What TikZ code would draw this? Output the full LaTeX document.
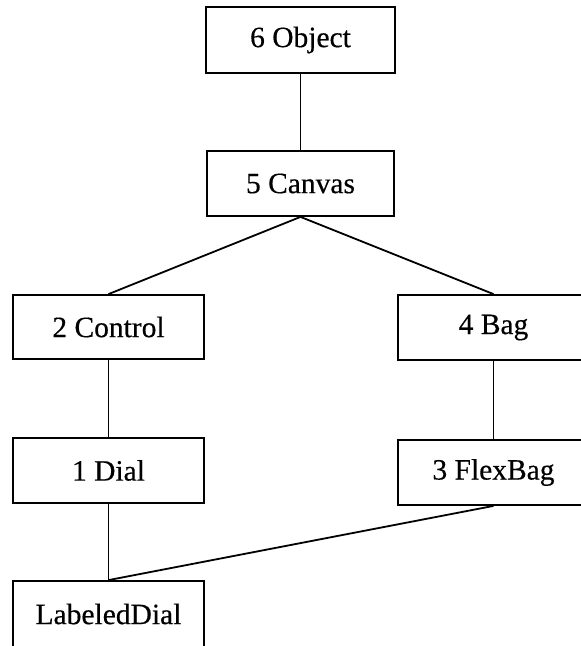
\documentclass[tikz,border=0pt]{standalone}
\usepackage{fontspec}
\setmainfont{Liberation Serif}
\newfontfamily\inkfont[FakeBold=0.4]{Liberation Serif}
\begin{document}
\begin{tikzpicture}[x=1pt,y=-1pt,
  cls/.style={draw=black, line width=1.8pt, fill=white, inner sep=0pt,
    minimum width=191pt, minimum height=65pt, font=\inkfont\fontsize{29.5}{32}\selectfont},
  link/.style={draw=black, line width=1.8pt}]
\useasboundingbox (0,0) rectangle (581,646);
\clip (0,0) rectangle (581,646);
\node[cls, minimum width=189pt, minimum height=66pt] (obj) at (300.5,40) {6 Object};
\node[cls, minimum width=187pt] (canvas) at (300.5,183.5) {5 Canvas};
\node[cls, minimum height=64pt] (control) at (108.5,327) {2 Control};
\node[cls] (bag) at (493.5,327.5) {4 Bag};
\node[cls] (dial) at (108.5,470.5) {1 Dial};
\node[cls] (flex) at (493.5,472.5) {3 FlexBag};
\node[cls, minimum height=66pt] (ld) at (108.5,614) {LabeledDial};
\draw[link] (obj.south) -- (canvas.north);
\draw[link] (canvas.south) -- (control.north);
\draw[link] (canvas.south) -- (bag.north);
\draw[link] (control.south) -- (dial.north);
\draw[link] (bag.south) -- (flex.north);
\draw[link] (dial.south) -- (ld.north);
\draw[link] (flex.south) -- (ld.north);
\end{tikzpicture}
\end{document}
